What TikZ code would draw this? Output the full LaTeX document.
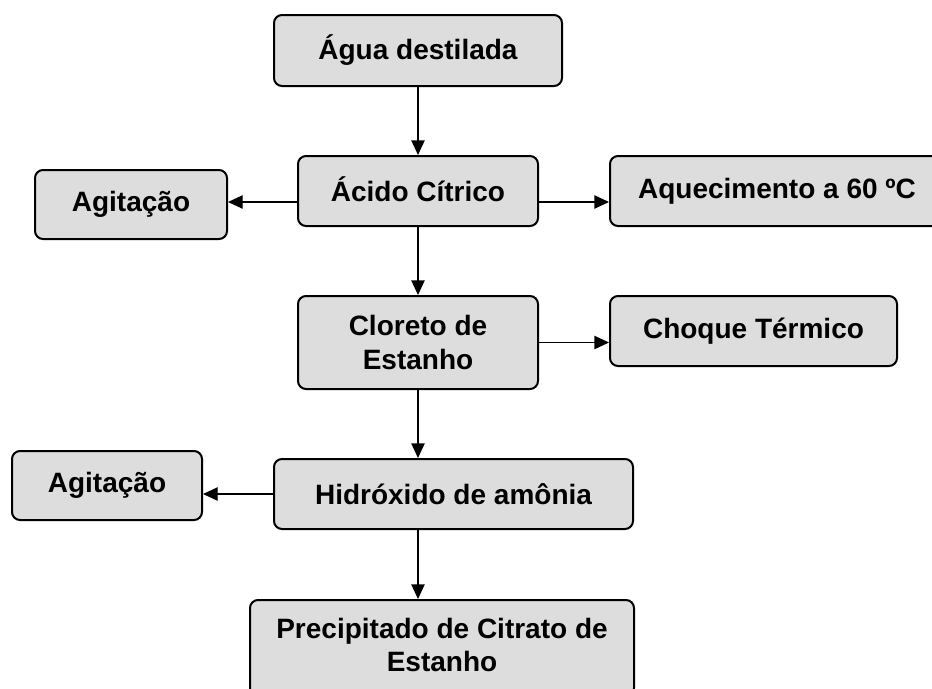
\documentclass[tikz,border=0pt]{standalone}
\usepackage{fontspec}
\setmainfont{Liberation Sans}
\usetikzlibrary{arrows.meta}
\definecolor{boxgray}{HTML}{DDDDDD}

\begin{document}
\begin{tikzpicture}[x=0.75pt,y=-0.75pt,
    etapa/.style={draw,line width=1.5pt,fill=boxgray,rounded corners=6pt,
      align=center,font=\fontsize{21}{25}\selectfont\bfseries,inner sep=0pt},
    seta/.style={line width=1pt,-{Triangle[length=11pt,width=10pt]}}]
        % Frame
        \useasboundingbox (0,0) rectangle (932,689);
        \clip (0,0) rectangle (932,689);

        % Boxes
        \node[etapa,minimum width=288*0.75pt,minimum height=71*0.75pt] (agua) at (418,50.5) {\raisebox{3pt}{Água destilada}};
        \node[etapa,minimum width=240*0.75pt,minimum height=70*0.75pt] (acido) at (418,191) {\raisebox{3pt}{Ácido Cítrico}};
        \node[etapa,minimum width=192*0.75pt,minimum height=69*0.75pt] (agita) at (131,204.5) {Agitação};
        \node[etapa,minimum width=334*0.75pt,minimum height=70*0.75pt] (aquec) at (777,191) {\raisebox{3pt}{Aquecimento a 60 ºC}};
        \node[etapa,minimum width=240*0.75pt,minimum height=93*0.75pt] (cloreto) at (418,342.5) {Cloreto de\\Estanho};
        \node[etapa,minimum width=287*0.75pt,minimum height=70*0.75pt] (choque) at (753.5,331) {\raisebox{3pt}{Choque Térmico}};
        \node[etapa,minimum width=359*0.75pt,minimum height=70*0.75pt] (hidrox) at (453.5,494) {Hidróxido de amônia};
        \node[etapa,minimum width=190*0.75pt,minimum height=69*0.75pt] (agitb) at (107,485.5) {Agitação};
        \node[etapa,minimum width=384*0.75pt,minimum height=96*0.75pt] (precip) at (442,648) {\raisebox{9pt}{\begin{tabular}{@{}c@{}}Precipitado de Citrato de\\Estanho\end{tabular}}};

        % Draw arrows
        \draw[seta] (agua.south) -- (acido.north);
        \draw[seta] (acido.south) -- (cloreto.north);
        \draw[seta] (cloreto.south) -- (cloreto.south |- hidrox.north);
        \draw[seta] (hidrox.south -| cloreto.south) -- (cloreto.south |- precip.north);
        \draw[seta] ([yshift=-8.25pt]acido.west) -- ([yshift=-8.25pt]acido.west -| agita.east);
        \draw[seta] ([yshift=-8.25pt]acido.east) -- ([yshift=-8.25pt]acido.east -| aquec.west);
        \draw[seta] (cloreto.east) -- (cloreto.east -| choque.west);
        \draw[seta] (hidrox.west) -- (hidrox.west -| agitb.east);
\end{tikzpicture}
\end{document}
